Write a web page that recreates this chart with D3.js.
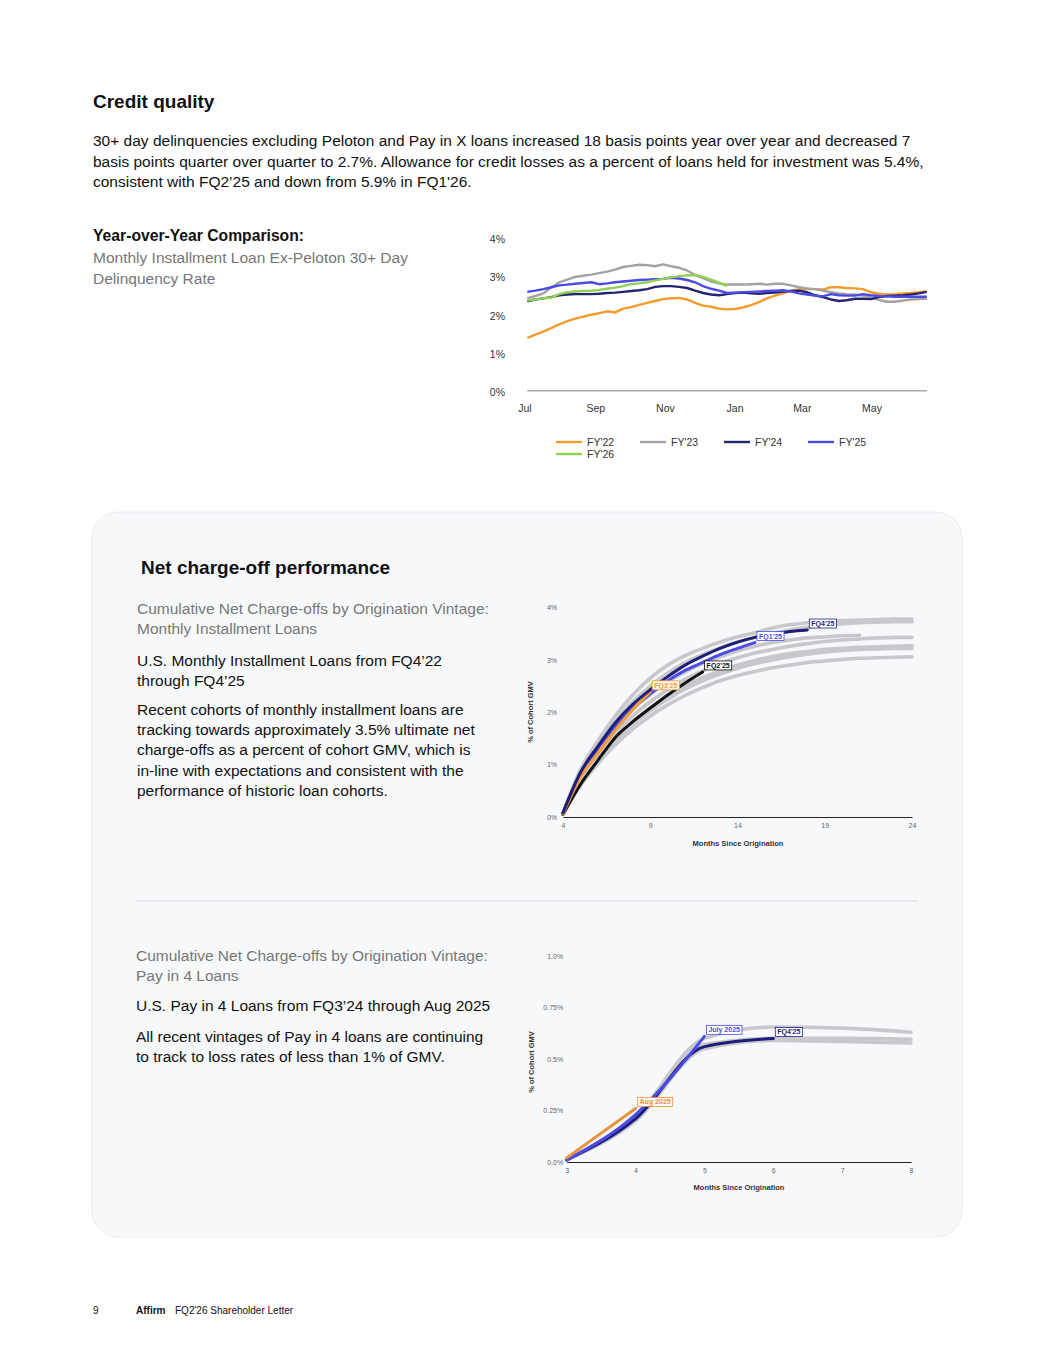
<!DOCTYPE html>
<html>
<head>
<meta charset="utf-8">
<script src="https://cdn.jsdelivr.net/npm/d3@7"></script>
<style>
  body { margin: 0; background: #fff; }
  text { font-family: "Liberation Sans", Arial, sans-serif; }
</style>
</head>
<body>
<svg id="page" width="1055" height="1365"></svg>
<script>
// ---------------- data: delinquency chart (weekly points from early July) ----------------
const fyNames = ["FY'22", "FY'23", "FY'24", "FY'25", "FY'26"]
const fy22 = [1.38,1.47,1.55,1.64,1.74,1.82,1.89,1.94,1.99,2.03,2.08,2.05,2.15,2.19,2.25,2.30,2.35,2.40,2.42,2.43,2.39,2.30,2.23,2.20,2.15,2.13,2.14,2.18,2.24,2.32,2.42,2.49,2.55,2.62,2.65,2.66,2.66,2.65,2.71,2.71,2.69,2.68,2.66,2.58,2.54,2.52,2.53,2.55,2.56,2.58,2.60]
const fy23 = [2.42,2.48,2.55,2.70,2.84,2.91,2.98,3.01,3.04,3.08,3.12,3.17,3.24,3.27,3.30,3.29,3.26,3.31,3.26,3.22,3.15,3.03,2.95,2.86,2.81,2.78,2.78,2.78,2.79,2.80,2.78,2.80,2.80,2.76,2.71,2.68,2.66,2.62,2.58,2.55,2.53,2.52,2.49,2.44,2.38,2.33,2.33,2.36,2.39,2.40,2.41]
const fy24 = [2.34,2.39,2.42,2.45,2.50,2.52,2.53,2.53,2.53,2.54,2.56,2.57,2.59,2.61,2.63,2.66,2.72,2.74,2.74,2.72,2.69,2.62,2.56,2.52,2.50,2.53,2.56,2.57,2.55,2.54,2.56,2.57,2.60,2.61,2.62,2.58,2.50,2.45,2.39,2.35,2.37,2.41,2.41,2.40,2.45,2.48,2.49,2.50,2.52,2.55,2.59]
const fy25 = [2.59,2.62,2.66,2.71,2.76,2.78,2.80,2.82,2.84,2.79,2.81,2.84,2.86,2.88,2.90,2.91,2.92,2.93,2.96,2.94,2.90,2.84,2.74,2.67,2.62,2.56,2.57,2.58,2.59,2.60,2.61,2.62,2.63,2.60,2.55,2.52,2.49,2.47,2.53,2.50,2.49,2.49,2.53,2.50,2.48,2.47,2.46,2.46,2.46,2.46,2.46]
const fy26 = [2.36,2.39,2.42,2.44,2.53,2.58,2.60,2.61,2.62,2.64,2.67,2.70,2.74,2.79,2.81,2.84,2.89,2.93,2.97,3.00,3.02,3.03,2.98,2.91,2.83,2.74]
const fyColors = ['#f39c2e', '#a2a2a2', '#25256f', '#4b4be3', '#8fd155']
const monthTicks = ['Jul', 'Sep', 'Nov', 'Jan', 'Mar', 'May']
const pctTicks = [0, 1, 2, 3, 4]

// ---------------- data: monthly installment cumulative NCO (month 4 onward) ----------------
const miMonthStart = 4
const miGray = [
  [0.08,0.90,1.45,1.93,2.33,2.65,2.90,3.08,3.22,3.34,3.44,3.52,3.61,3.67,3.71,3.73,3.75,3.76,3.77,3.78,3.78],
  [0.07,0.85,1.38,1.83,2.20,2.50,2.75,2.95,3.10,3.23,3.34,3.43,3.51,3.57,3.62,3.66,3.69,3.71,3.72,3.73,3.73],
  [0.07,0.80,1.30,1.72,2.06,2.34,2.58,2.77,2.93,3.06,3.17,3.26,3.33,3.38,3.42,3.44,3.46,3.47],
  [0.06,0.72,1.20,1.60,1.93,2.20,2.43,2.63,2.79,2.93,3.04,3.13,3.20,3.26,3.31,3.35,3.38,3.40,3.42,3.43,3.43],
  [0.06,0.68,1.13,1.51,1.82,2.08,2.31,2.50,2.66,2.79,2.90,2.99,3.06,3.12,3.16,3.20,3.22,3.24,3.25,3.26,3.27],
  [0.05,0.64,1.08,1.46,1.77,2.03,2.25,2.44,2.60,2.73,2.84,2.93,3.00,3.06,3.11,3.15,3.18,3.20,3.21,3.22,3.22],
  [0.05,0.60,1.02,1.38,1.68,1.93,2.14,2.32,2.47,2.60,2.70,2.78,2.85,2.90,2.95,2.98,3.01,3.03,3.04,3.05,3.06]
]
const miFQ225 = [0.05,0.62,1.08,1.52,1.82,2.08,2.33,2.56,2.77]
const miFQ125 = [0.07,0.82,1.30,1.72,2.07,2.35,2.60,2.80,2.95,3.10,3.22,3.33]
const miFQ325 = [0.06,0.76,1.22,1.66,2.05,2.39]
const miFQ425 = [0.08,0.85,1.35,1.80,2.15,2.43,2.68,2.90,3.07,3.22,3.34,3.43,3.50,3.54,3.57]
const miTicksX = [4, 9, 14, 19, 24]
const miTicksY = [0, 1, 2, 3, 4]

// ---------------- data: pay in 4 cumulative NCO (month 3 onward) ----------------
const p4MonthStart = 3
const p4Gray = [
  [0.01,0.22,0.60,0.655,0.65,0.63],
  [0.01,0.21,0.57,0.60,0.60,0.596],
  [0.01,0.20,0.55,0.59,0.585,0.578]
]
const p4FQ425 = [0.01,0.21,0.56,0.60]
const p4Jul25 = [0.01,0.23,0.61]
const p4Aug25 = [0.02,0.26]
const p4TicksX = [3, 4, 5, 6, 7, 8]
const p4TicksY = [0, 0.25, 0.5, 0.75, 1]
const p4TickLabels = ['0.0%', '0.25%', '0.5%', '0.75%', '1.0%']

const svg = d3.select('#page')

function lines(x, y0, lh, arr, size, color, weight) {
  arr.forEach((t, i) => {
    svg.append('text').attr('x', x).attr('y', y0 + i * lh).attr('font-size', size)
      .attr('fill', color).attr('font-weight', weight || 'normal').text(t)
  })
}

//----------------------------------------------------------- page text
lines(93, 108, 0, ['Credit quality'], 19, '#111', 'bold')
lines(93, 146, 20.5, [
  '30+ day delinquencies excluding Peloton and Pay in X loans increased 18 basis points year over year and decreased 7',
  'basis points quarter over quarter to 2.7%. Allowance for credit losses as a percent of loans held for investment was 5.4%,',
  'consistent with FQ2’25 and down from 5.9% in FQ1\'26.'
], 15.5, '#111')
lines(93, 241, 0, ['Year-over-Year Comparison:'], 15.7, '#111', 'bold')
lines(93, 263, 21, ['Monthly Installment Loan Ex-Peloton 30+ Day', 'Delinquency Rate'], 15.5, '#777')

//----------------------------------------------------------- delinquency chart
const t0 = new Date(2022, 6, 1)
const weeks = d3.range(fy22.length).map(i => d3.timeDay.offset(t0, 2 + 7 * i))
const x1 = d3.scaleTime().domain([t0, new Date(2023, 4, 1)]).range([525, 872])
const y1 = d3.scaleLinear().domain([0, 4]).range([390.7, 238])
const monthDates = [new Date(2022,6,1), new Date(2022,8,1), new Date(2022,10,1), new Date(2023,0,1), new Date(2023,2,1), new Date(2023,4,1)]

svg.append('g').selectAll('text').data(pctTicks).join('text')
  .attr('x', 505).attr('y', d => y1(d) + 1.5).attr('dy', '0.35em').attr('text-anchor', 'end')
  .attr('font-size', 10.5).attr('fill', '#333').text(d => d + '%')
svg.append('g').selectAll('text').data(monthTicks).join('text')
  .attr('x', (d, i) => x1(monthDates[i])).attr('y', 412).attr('text-anchor', 'middle')
  .attr('font-size', 10.5).attr('fill', '#333').text(d => d)
svg.append('line').attr('x1', x1(weeks[0])).attr('x2', x1(weeks[weeks.length - 1]))
  .attr('y1', y1(0)).attr('y2', y1(0)).attr('stroke', '#aaa').attr('stroke-width', 1.5)

const line1 = d3.line().x((d, i) => x1(weeks[i])).y(d => y1(d))
const fySeries = [fy22, fy23, fy24, fy25, fy26]
svg.append('g').selectAll('path').data(fySeries).join('path')
  .attr('d', line1).attr('fill', 'none').attr('stroke', (d, i) => fyColors[i])
  .attr('stroke-width', 2.4).attr('stroke-linejoin', 'round')

const legX = [556, 640, 724, 808, 556]
const legY = [442, 442, 442, 442, 454]
const leg = svg.append('g').selectAll('g').data(fyNames).join('g')
  .attr('transform', (d, i) => `translate(${legX[i]},${legY[i]})`)
leg.append('line').attr('x1', 0).attr('x2', 26).attr('stroke', (d, i) => fyColors[i]).attr('stroke-width', 2.4)
leg.append('text').attr('x', 31).attr('dy', '0.35em').attr('font-size', 10.5).attr('fill', '#333').text(d => d)

//----------------------------------------------------------- panel
svg.append('rect').attr('x', 92).attr('y', 512).attr('width', 870).attr('height', 725).attr('rx', 26)
  .attr('fill', '#f7f8fa').attr('stroke', '#ececf0')
lines(141, 574, 0, ['Net charge-off performance'], 19, '#111', 'bold')
lines(137, 614, 20, ['Cumulative Net Charge-offs by Origination Vintage:', 'Monthly Installment Loans'], 15.5, '#777')
lines(137, 666, 19.5, ['U.S. Monthly Installment Loans from FQ4’22', 'through FQ4’25'], 15.5, '#111')
lines(137, 715, 20.2, [
  'Recent cohorts of monthly installment loans are',
  'tracking towards approximately 3.5% ultimate net',
  'charge-offs as a percent of cohort GMV, which is',
  'in-line with expectations and consistent with the',
  'performance of historic loan cohorts.'
], 15.5, '#111')
svg.append('line').attr('x1', 136).attr('x2', 918).attr('y1', 901).attr('y2', 901).attr('stroke', '#dcdce0')
lines(136, 961, 19.5, ['Cumulative Net Charge-offs by Origination Vintage:', 'Pay in 4 Loans'], 15.5, '#777')
lines(136, 1011, 0, ['U.S. Pay in 4 Loans from FQ3’24 through Aug 2025'], 15.5, '#111')
lines(136, 1042, 20, ['All recent vintages of Pay in 4 loans are continuing', 'to track to loss rates of less than 1% of GMV.'], 15.5, '#111')

function tag(x, y, label, color, fill) {
  const g = svg.append('g').attr('transform', `translate(${x + 2},${y - 2})`)
  const r = g.append('rect').attr('fill', fill).attr('stroke', color).attr('stroke-width', 0.8)
  const t = g.append('text').attr('x', 2).attr('y', -2).attr('font-size', 7).attr('font-weight', 'bold')
    .attr('fill', color).text(label)
  const w = t.node().getComputedTextLength()
  r.attr('x', 0).attr('y', -9).attr('width', w + 4).attr('height', 9)
}

function axisTitles(cx, cy, xTitleY) {
  svg.append('text').attr('x', cx).attr('y', xTitleY).attr('text-anchor', 'middle').attr('font-size', 7.5)
    .attr('font-weight', 'bold').attr('fill', '#333').text('Months Since Origination')
  svg.append('text').attr('transform', `translate(${cx - 205},${cy}) rotate(-90)`).attr('text-anchor', 'middle')
    .attr('font-size', 7.5).attr('font-weight', 'bold').attr('fill', '#333').text('% of Cohort GMV')
}

function styleAxis(g) {
  g.selectAll('text').attr('font-size', 7).attr('fill', '#666').attr('font-family', '"Liberation Sans", Arial, sans-serif')
  g.select('.domain').attr('stroke', '#222').attr('stroke-width', 1)
}

//----------------------------------------------------------- monthly installment chart
const x2 = d3.scaleLinear().domain([4, 24]).range([563, 912])
const y2 = d3.scaleLinear().domain([0, 4]).range([817, 607.5])
svg.append('g').attr('transform', 'translate(0,817)')
  .call(d3.axisBottom(x2).tickValues(miTicksX).tickSize(0).tickPadding(6).tickFormat(d3.format('d'))).call(styleAxis)
svg.append('g').attr('transform', 'translate(563,0)')
  .call(d3.axisLeft(y2).tickValues(miTicksY).tickSize(0).tickPadding(6).tickFormat(d => d + '%'))
  .call(styleAxis).call(g => g.select('.domain').remove())
axisTitles(738, 712, 846)

const line2 = d3.line().x((d, i) => x2(miMonthStart + i)).y(d => y2(d)).curve(d3.curveMonotoneX)
svg.append('g').selectAll('path').data(miGray).join('path').attr('d', line2).attr('fill', 'none')
  .attr('stroke', '#c8c8cc').attr('stroke-width', 3.6).attr('stroke-linecap', 'round')
const miHi = [[miFQ225, '#111111'], [miFQ125, '#4b4be3'], [miFQ325, '#f39c3a'], [miFQ425, '#1d1d7a']]
svg.append('g').selectAll('path').data(miHi).join('path').attr('d', d => line2(d[0])).attr('fill', 'none')
  .attr('stroke', d => d[1]).attr('stroke-width', 3).attr('stroke-linecap', 'round')
const miEnd = s => [x2(miMonthStart + s.length - 1), y2(s[s.length - 1])]
tag(...miEnd(miFQ425), "FQ4'25", '#1d1d7a', '#fff')
tag(...miEnd(miFQ125), "FQ1'25", '#4b4be3', '#fff')
tag(...miEnd(miFQ225), "FQ2'25", '#111', '#fff')
tag(...miEnd(miFQ325), "FQ3'25", '#f39c3a', '#fff8ef')

//----------------------------------------------------------- pay in 4 chart
const x3 = d3.scaleLinear().domain([3, 8]).range([566.7, 911])
const y3 = d3.scaleLinear().domain([0, 1]).range([1162, 956])
svg.append('g').attr('transform', 'translate(0,1162)')
  .call(d3.axisBottom(x3).tickValues(p4TicksX).tickSize(0).tickPadding(6).tickFormat(d3.format('d'))).call(styleAxis)
svg.append('g').attr('transform', 'translate(566.7,0)')
  .call(d3.axisLeft(y3).tickValues(p4TicksY).tickSize(0).tickPadding(3.5).tickFormat((d, i) => p4TickLabels[i]))
  .call(styleAxis).call(g => g.select('.domain').remove())
axisTitles(739, 1062, 1190)

const line3 = d3.line().x((d, i) => x3(p4MonthStart + i)).y(d => y3(d)).curve(d3.curveMonotoneX)
svg.append('g').selectAll('path').data(p4Gray).join('path').attr('d', line3).attr('fill', 'none')
  .attr('stroke', '#c8c8cc').attr('stroke-width', 3.6).attr('stroke-linecap', 'round')
const p4Hi = [[p4FQ425, '#1d1d7a'], [p4Jul25, '#4b4be3'], [p4Aug25, '#e8923a']]
svg.append('g').selectAll('path').data(p4Hi).join('path').attr('d', d => line3(d[0])).attr('fill', 'none')
  .attr('stroke', d => d[1]).attr('stroke-width', 3).attr('stroke-linecap', 'round')
const p4End = s => [x3(p4MonthStart + s.length - 1), y3(s[s.length - 1])]
tag(...p4End(p4Jul25), 'July 2025', '#4b4be3', '#fff')
tag(...p4End(p4FQ425), "FQ4'25", '#1d1d7a', '#fff')
tag(...p4End(p4Aug25), 'Aug 2025', '#e8923a', '#fff8ef')

//----------------------------------------------------------- footer
lines(93, 1314, 0, ['9'], 10, '#111')
lines(136, 1314, 0, ['Affirm'], 10, '#111', 'bold')
lines(175, 1314, 0, ['FQ2\'26 Shareholder Letter'], 10, '#111')
</script>
</body>
</html>
